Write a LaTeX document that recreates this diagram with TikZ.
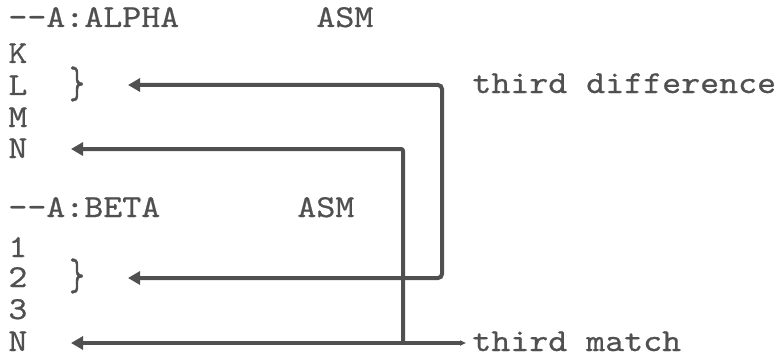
\documentclass[tikz,border=0pt]{standalone}
\usepackage{fontspec}
\setmonofont[FakeStretch=1.13,FakeBold=0.6]{lmmono10-regular.otf}
\usetikzlibrary{arrows.meta}
\definecolor{ink}{HTML}{505050}
\newcommand{\klzu}{\scalebox{0.8}[1.4]{\}}}

\begin{document}
\begin{tikzpicture}[x=0.5pt, y=-0.5pt,
    >={Triangle[length=6pt,width=6.5pt]},
    txt/.style={anchor=base west, inner sep=0pt, text=ink,
        font=\ttfamily\fontsize{16}{17}\selectfont},
    klammer/.style={txt, anchor=center},
    lnk/.style={draw=ink, line width=2pt}]
\useasboundingbox (0,0) rectangle (780,358);

% Kopfzeilen
\node[txt] (alpha) at (8,27) {--A:ALPHA};
\node[txt] (asma) at (316,27) {ASM};
\node[txt] (beta) at (8,217) {--A:BETA};
\node[txt] (asmb) at (297,217) {ASM};

% Zeilen oben
\node[txt] (k) at (8,63) {K};
\node[txt] (l) at (8,95) {L};
\node[txt] (m) at (8,127) {M};
\node[txt] (na) at (8,158) {N};
\node[klammer] (kla) at (77,84) {\klzu};

% Zeilen unten
\node[txt] (eins) at (8,257) {1};
\node[txt] (zwei) at (8,287) {2};
\node[txt] (drei) at (8,319) {3};
\node[txt] (nb) at (8,351) {N};
\node[klammer] (klb) at (77,276) {\klzu};

% Beschriftungen rechts
\node[txt] (diff) at (472,93) {third difference};
\node[txt] (match) at (472,351) {third match};

% Punkte
\coordinate (spl) at (128,85);
\coordinate (spz) at (128,278);
\coordinate (spna) at (71,149);
\coordinate (spnb) at (71,343);
\coordinate (ecka) at (442,85);
\coordinate (eckb) at (442,278);
\coordinate (eckc) at (403,149);
\coordinate (knoten) at (403,343);
\coordinate (ende) at (466,343);

% Verbindungen
\draw[lnk, <->, rounded corners=2pt] (spl) -- (ecka) -- (eckb) -- (spz);
\draw[lnk, <-, rounded corners=1pt] (spna) -- (eckc) -- (knoten);
\draw[lnk, <-] (spnb) -- (knoten);
\draw[lnk, -{Triangle[length=3pt,width=2.5pt]}] (knoten) -- (ende);

\end{tikzpicture}
\end{document}
